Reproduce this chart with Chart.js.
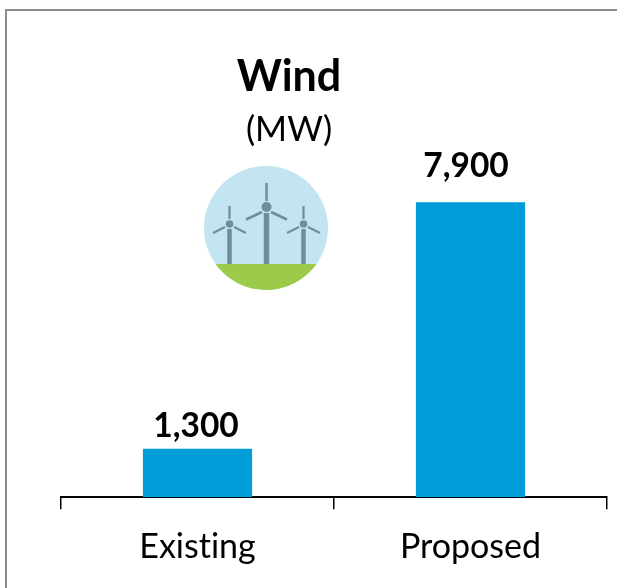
<!DOCTYPE html>
<html>
<head>
<meta charset="utf-8">
<title>Wind (MW)</title>
<script src="https://cdn.jsdelivr.net/npm/chart.js@4"></script>
<style>
    html, body { margin: 0; padding: 0; background: #fff; overflow: hidden; }
    #wrap { position: relative; width: 617px; height: 588px; overflow: hidden; font-family: Lato, "Open Sans", sans-serif; color: #000; }
    #frame { position: absolute; left: 5px; top: 9px; width: 700px; height: 700px; border: 2px solid #8c8c8c; box-sizing: border-box; }
    #windChart { position: absolute; left: 0; top: 0; }
    .heading { position: absolute; left: 189px; width: 200px; text-align: center; white-space: nowrap; }
    #title { top: 50px; font-size: 43px; line-height: 50px; font-weight: 700; }
    #unit { top: 107px; font-size: 34.500px; line-height: 42px; }
    #icon { position: absolute; left: 0; top: 0; }
</style>
</head>
<body>
<div id="wrap">
    <div id="frame"></div>
    <canvas id="windChart" width="617" height="588"></canvas>
    <div id="title" class="heading">Wind</div>
    <div id="unit" class="heading">(MW)</div>
    <!-- turbine badge -->
    <svg id="icon" width="617" height="588" viewBox="0 0 617 588">
        <defs><clipPath id="disc"><circle cx="266" cy="228" r="62"/></clipPath></defs>
        <circle cx="266" cy="228" r="62" fill="#c5e4f1"/>
        <rect x="200" y="264" width="132" height="30" fill="#9ccb4b" clip-path="url(#disc)"/>
        <g stroke="#6f8e99" fill="#6f8e99">
            <path d="M266.500 213V264" stroke-width="5.500"/>
            <path d="M266.500 183V201M262 212L246 219.500M271 212L287 219.500" stroke-width="2.500"/>
            <circle cx="266.500" cy="207" r="5" stroke="none"/>
            <path d="M229.500 229V264" stroke-width="4.500"/>
            <path d="M229.500 206V219M225 227L213 233M234 227L246 233" stroke-width="2.200"/>
            <circle cx="229.500" cy="224" r="3.800" stroke="none"/>
            <path d="M303.500 229V264" stroke-width="4.500"/>
            <path d="M303.500 206V219M299 227L287 233M308 227L320 233" stroke-width="2.200"/>
            <circle cx="303.500" cy="224" r="3.800" stroke="none"/>
        </g>
    </svg>
</div>
<script>
    const categories = ['Existing', 'Proposed'];
    const capacityMW = [1300, 7900];

    // Value labels sit a little off the bar centres in the original
    const labelShiftX = [-1.5, -4.5];
    const labelGap = [6, 19];

    // Lato's "ti" ligature is not in the original
    const plainText = {
        id: 'plainText',
        beforeDraw(chart) {
            chart.ctx.textRendering = 'optimizeSpeed';
        }
    };

    // Value labels above the bars
    const valueLabels = {
        id: 'valueLabels',
        afterDatasetsDraw(chart) {
            const ctx = chart.ctx;
            ctx.save();
            ctx.font = '700 33.500px Lato, "Open Sans", sans-serif';
            ctx.fillStyle = '#000';
            ctx.textAlign = 'center';
            ctx.textBaseline = 'bottom';
            chart.getDatasetMeta(0).data.forEach((bar, i) => {
                ctx.fillText(capacityMW[i].toLocaleString('en-US'), bar.x + labelShiftX[i], bar.y - labelGap[i]);
            });
            ctx.restore();
        }
    };

    new Chart(document.getElementById('windChart').getContext('2d'), {
        type: 'bar',
        data: {
            labels: categories,
            datasets: [{
                data: capacityMW,
                backgroundColor: '#009dd9',
                categoryPercentage: 0.4,
                barPercentage: 1
            }]
        },
        options: {
            responsive: false,
            animation: false,
            layout: { padding: { left: 61, right: 10, top: 124, bottom: 4 } },
            plugins: {
                legend: { display: false },
                title: { display: false },
                tooltip: { enabled: false }
            },
            scales: {
                x: {
                    grid: {
                        offset: true,
                        drawOnChartArea: false,
                        color: '#000',
                        lineWidth: 1.5,
                        tickLength: 12
                    },
                    border: { color: '#000', width: 2 },
                    ticks: {
                        color: '#000',
                        padding: 17,
                        maxRotation: 0,
                        font: { family: 'Lato, "Open Sans", sans-serif', size: 34 }
                    }
                },
                y: { display: false, min: 0, max: 10000 }
            }
        },
        plugins: [plainText, valueLabels]
    });
</script>
</body>
</html>
